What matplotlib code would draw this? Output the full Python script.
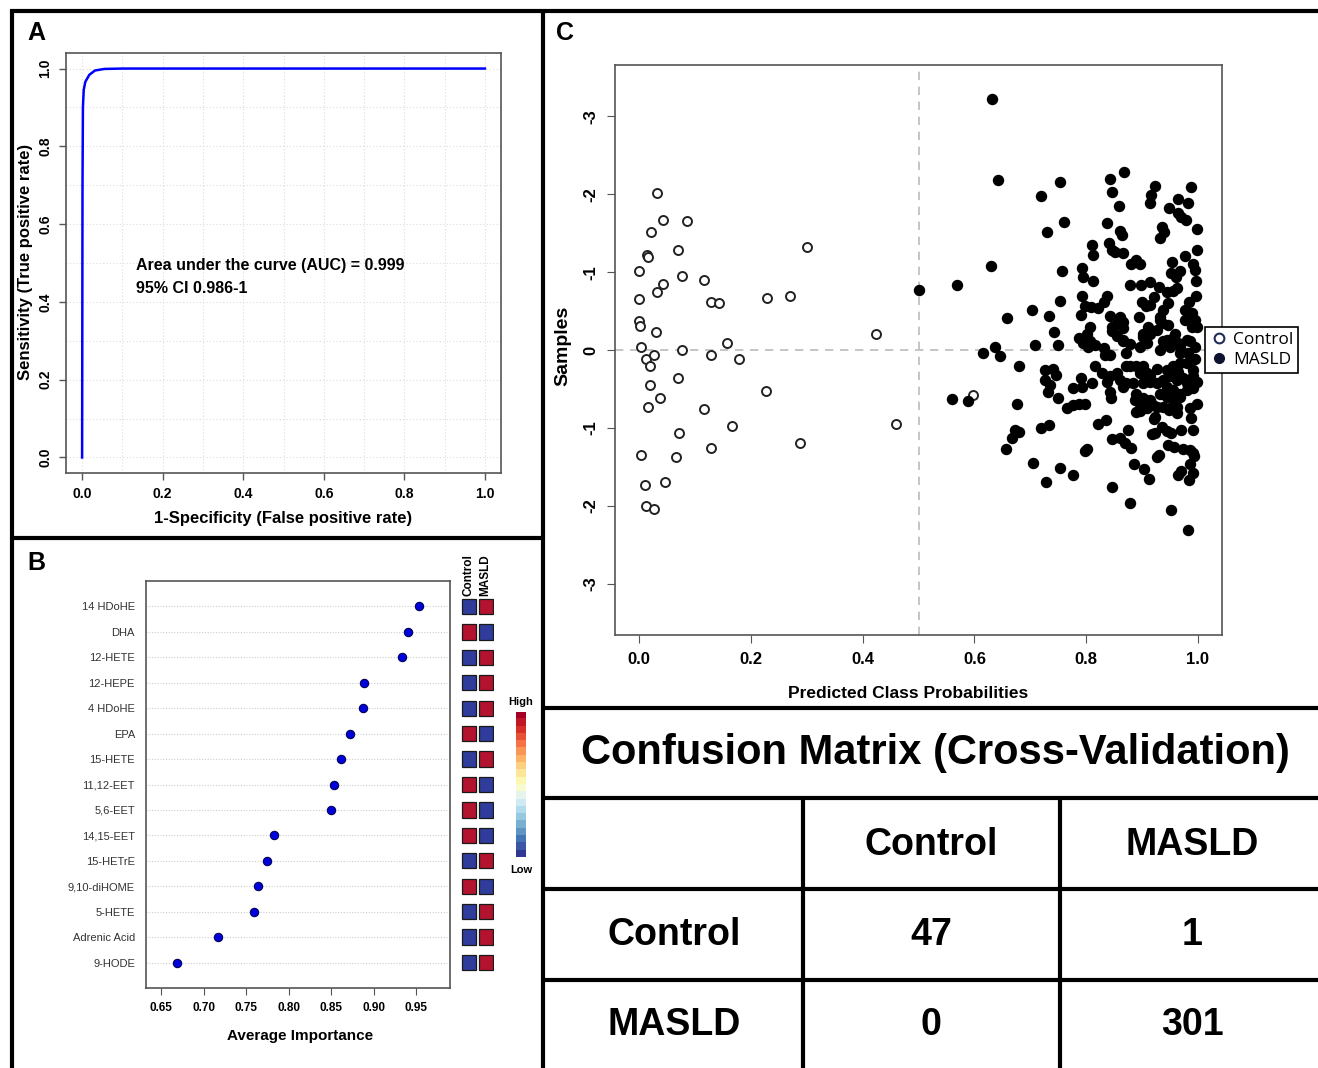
import numpy as np
import matplotlib
matplotlib.use("Agg")
import matplotlib.pyplot as plt
from matplotlib.lines import Line2D
from matplotlib import font_manager

# ---- data -------------------------------------------------------------
roc_fpr = [0.0, 0.001, 0.002, 0.004, 0.008, 0.018, 0.032, 0.055, 0.1, 1.0]
roc_tpr = [0.0, 0.70, 0.90, 0.945, 0.966, 0.984, 0.995, 0.999, 1.0, 1.0]
auc_text = ["Area under the curve (AUC) = 0.999", "95% CI 0.986-1"]

metabolites = ["14 HDoHE", "DHA", "12-HETE", "12-HEPE", "4 HDoHE", "EPA", "15-HETE",
               "11,12-EET", "5,6-EET", "14,15-EET", "15-HETrE", "9,10-diHOME", "5-HETE",
               "Adrenic Acid", "9-HODE"]
importance = [0.953, 0.941, 0.933, 0.889, 0.888, 0.872, 0.862, 0.853, 0.850,
              0.783, 0.774, 0.764, 0.759, 0.717, 0.669]
groups = ["Control", "MASLD"]
control_level = ["Low", "High", "Low", "Low", "Low", "High", "Low", "High", "High",
                 "High", "Low", "High", "Low", "Low", "Low"]
masld_level = ["High", "Low", "High", "High", "High", "Low", "High", "Low", "Low",
               "Low", "High", "Low", "High", "High", "High"]

ctrl_prob = [0.032, 0.042, 0.086, 0.021, 0.014, 0.016, 0.069, 0.300, 0.000, 0.077,
             0.117, 0.042, 0.033, 0.000, 0.128, 0.143, 0.229, 0.270, 0.000, 0.002,
             0.030, 0.424, 0.004, 0.157, 0.077, 0.013, 0.027, 0.020, 0.128, 0.179,
             0.069, 0.020, 0.038, 0.227, 0.016, 0.116, 0.166, 0.459, 0.072, 0.288,
             0.128, 0.004, 0.067, 0.011, 0.047, 0.012, 0.026, 0.598]
ctrl_sample = [-2.02, -1.67, -1.66, -1.51, -1.22, -1.20, -1.29, -1.32, -1.01, -0.95,
               -0.90, -0.85, -0.74, -0.65, -0.62, -0.61, -0.67, -0.69, -0.37, -0.31,
               -0.23, -0.21, -0.04, -0.09, 0.00, 0.12, 0.06, 0.21, 0.07, 0.12,
               0.36, 0.45, 0.61, 0.53, 0.73, 0.76, 0.98, 0.95, 1.06, 1.19,
               1.26, 1.35, 1.37, 1.73, 1.70, 2.00, 2.04, 0.58]

masld_prob = [
    0.632, 0.643, 0.753, 0.719, 0.761, 0.730, 0.630, 0.568, 0.757, 0.658,
    0.703, 0.733, 0.754, 0.742, 0.708, 0.750, 0.637, 0.616, 0.645, 0.680,
    0.560, 0.589, 0.676, 0.657, 0.667, 0.673, 0.680, 0.704, 0.728, 0.753,
    0.776, 0.719, 0.733, 0.801, 0.798, 0.822, 0.835, 0.846, 0.878, 0.952,
    0.982, 0.847, 0.861, 0.869, 0.881, 0.886, 0.903, 0.913, 0.926, 0.931,
    0.964, 0.969, 0.986, 0.992, 0.984, 0.973, 0.986, 0.993, 0.992, 0.946,
    0.958, 0.875, 0.917, 0.924, 0.936, 0.944, 0.951, 0.969, 0.991, 0.988,
    0.921, 0.890, 0.896, 0.765, 0.777, 0.788, 0.798, 0.777, 0.792, 0.750,
    0.731, 0.735, 0.726, 0.727, 0.740, 0.746, 0.791, 0.811, 0.844, 0.843,
    0.837, 0.843, 0.829, 0.815, 0.868, 0.843, 0.847, 0.859, 0.924, 0.916,
    0.914, 0.987, 0.982, 0.964, 0.948, 0.964, 0.969, 0.978, 0.998, 0.838,
    0.861, 0.864, 0.936, 0.940, 0.932, 0.811, 0.813, 0.840, 0.846, 0.852,
    0.866, 0.998, 0.977, 0.880, 0.890, 0.897, 0.792, 0.794, 0.812, 0.878,
    0.898, 0.914, 0.930, 0.954, 0.952, 0.960, 0.968, 0.992, 0.995, 0.996,
    0.944, 0.955, 0.962, 0.793, 0.798, 0.809, 0.837, 0.831, 0.822, 0.900,
    0.907, 0.921, 0.914, 0.996, 0.984, 0.977, 0.990, 0.995, 0.998, 0.947,
    0.938, 0.932, 0.935, 0.947, 0.790, 0.843, 0.860, 0.866, 0.895, 0.807,
    0.801, 0.788, 0.846, 0.847, 0.855, 0.866, 0.878, 0.911, 0.914, 0.902,
    0.908, 0.896, 0.959, 0.956, 0.965, 0.950, 0.938, 0.932, 0.986, 0.995,
    0.983, 0.995, 0.980, 0.992, 0.795, 0.804, 0.816, 0.831, 0.834, 0.843,
    0.872, 0.872, 0.878, 0.890, 0.902, 0.908, 0.896, 0.926, 0.944, 0.950,
    0.956, 0.968, 0.965, 0.855, 0.860, 0.872, 0.884, 0.865,
    0.890, 0.902, 0.914, 0.932, 0.944, 0.950, 0.956, 0.968, 0.980, 0.992,
    0.998, 0.986, 0.974, 0.962, 0.938, 0.914, 0.902,
    0.998, 0.986, 0.962, 0.950, 0.962, 0.938, 0.926, 0.908, 0.896, 0.887,
    0.968, 0.992, 0.980, 0.956, 0.944, 0.968, 0.926, 0.914, 0.923, 0.920, 0.948,
    0.807, 0.855, 0.866, 0.865, 0.902, 0.926, 0.932, 0.944, 0.968, 0.980, 0.989, 0.977,
    0.501]
masld_sample = [
    -3.22, -2.18, -2.16, -1.98, -1.64, -1.52, -1.08, -0.83, -1.02, -0.41,
    -0.51, -0.44, -0.63, -0.23, -0.07, -0.06, -0.04, 0.04, 0.08, 0.21,
    0.63, 0.65, 0.69, 1.27, 1.13, 1.03, 1.05, 1.45, 1.70, 1.52,
    1.61, 1.00, 0.96, 1.27, 1.30, 0.95, 0.90, 1.76, 1.97, 2.06,
    2.31, 1.14, 1.13, 1.20, 1.26, 1.47, 1.53, 1.66, 1.38, 1.35,
    1.61, 1.55, 1.47, 1.58, 1.67, 1.27, 1.29, 1.36, 1.32, 1.22,
    1.24, 1.03, 1.08, 1.07, 0.99, 1.04, 1.06, 1.03, 1.03, 0.87,
    0.88, 0.79, 0.78, 0.75, 0.70, 0.69, 0.69, 0.49, 0.48, 0.62,
    0.54, 0.45, 0.39, 0.26, 0.24, 0.32, 0.36, 0.42, 0.61, 0.54,
    0.41, 0.34, 0.30, 0.21, -2.28, -2.19, -2.03, -1.85, -2.11, -1.99,
    -1.89, -2.09, -1.89, -1.94, -1.83, -1.76, -1.71, -1.67, -1.55, -1.63,
    -1.53, -1.48, -1.58, -1.52, -1.44, -1.35, -1.22, -1.37, -1.29, -1.26,
    -1.24, -1.29, -1.21, -1.11, -1.16, -1.11, -1.05, -0.94, -0.88, -0.84,
    -0.84, -0.87, -0.81, -1.13, -0.99, -0.94, -1.01, -1.11, -1.03, -0.89,
    -0.75, -0.76, -0.79, -0.69, -0.56, -0.55, -0.69, -0.62, -0.54, -0.62,
    -0.56, -0.68, -0.58, -0.69, -0.62, -0.51, -0.47, -0.39, -0.30, -0.61,
    -0.51, -0.43, -0.35, -0.32, -0.45, -0.44, -0.42, -0.36, -0.42, -0.30,
    -0.21, -0.16, -0.30, -0.25, -0.18, -0.13, -0.08, -0.30, -0.21, -0.17,
    -0.09, -0.04, -0.21, -0.15, -0.09, -0.04, -0.11, 0.00, -0.11, -0.04,
    0.04, 0.11, 0.17, 0.26, -0.09, -0.04, -0.06, -0.02, 0.06, 0.06,
    0.04, 0.21, 0.21, 0.21, 0.21, 0.30, 0.30, 0.24, 0.26, 0.34,
    0.21, 0.17, 0.28, 0.30, 0.39, 0.43, 0.43, 0.47,
    0.56, 0.62, 0.64, 0.56, 0.47, 0.56, 0.62, 0.56, 0.51, 0.49,
    0.41, 0.39, 0.36, 0.39, 0.39, 0.41, 0.43,
    0.69, 0.75, 0.73, 0.75, 0.81, 0.73, 0.73, 0.75, 0.69, 0.64,
    0.04, 0.34, 0.43, 0.51, 0.60, 0.60, 0.43, 0.34, 0.86, 0.71, 0.77,
    -0.11, -0.34, -0.28, -0.11, -0.21, -0.26, -0.39, -0.13, -0.04, -0.13, -0.30, -0.39,
    -0.77]

cm_labels = ["Control", "MASLD"]
cm_values = [[47, 1], [0, 301]]

# ---- layout helpers (pixel coords, origin top-left) --------------------
W, H = 1318, 1068


def box(l, t, r, b):
    return [l / W, 1 - b / H, (r - l) / W, (b - t) / H]


def fx(x):
    return x / W


def fy(y):
    return 1 - y / H


plt.rcParams['font.family'] = ['Liberation Sans', 'DejaVu Sans']
names = {f.name for f in font_manager.fontManager.ttflist}
narrow = 'Liberation Sans Narrow' if 'Liberation Sans Narrow' in names else 'Liberation Sans'

fig = plt.figure(figsize=(W / 100, H / 100), dpi=100)
spine_col = '#555555'


def style_axes(ax):
    for s in ax.spines.values():
        s.set_color(spine_col)
        s.set_linewidth(1.2)


# ---- panel A: ROC -----------------------------------------------------
axA = fig.add_axes(box(66, 53, 501, 473))
for v in np.arange(0, 1.01, 0.1):
    axA.axvline(v, color='#dddddd', lw=0.8, ls=(0, (1, 2)), zorder=0)
    axA.axhline(v, color='#dddddd', lw=0.8, ls=(0, (1, 2)), zorder=0)
axA.plot(roc_fpr, roc_tpr, color='#0000ff', lw=1.8)
axA.set_xlim(-0.04, 1.04)
axA.set_ylim(-0.04, 1.04)
ticksA = np.arange(0, 1.01, 0.2)
axA.set_xticks(ticksA)
axA.set_xticklabels([f"{t:.1f}" for t in ticksA], fontsize=10, fontweight='bold')
axA.set_yticks(ticksA)
axA.set_yticklabels([f"{t:.1f}" for t in ticksA], fontsize=10, fontweight='bold',
                    rotation=90, va='center')
axA.tick_params(direction='out', length=5, width=1, color=spine_col, pad=5)
style_axes(axA)
axA.text(0.135, 0.493, auc_text[0], fontsize=11.5, fontweight='bold', va='center')
axA.text(0.135, 0.434, auc_text[1], fontsize=11.5, fontweight='bold', va='center')
fig.text(fx(283), fy(519), "1-Specificity (False positive rate)", fontsize=12,
         fontweight='bold', ha='center', va='center')
fig.text(fx(26), fy(262), "Sensitivity (True positive rate)", fontsize=12,
         fontweight='bold', ha='center', va='center', rotation=90)

# ---- panel B: variable importance --------------------------------------
rows = np.arange(1, len(metabolites) + 1)
axB = fig.add_axes(box(146, 581, 450, 988))
for r in rows:
    axB.axhline(r, color='#cccccc', lw=0.8, ls=(0, (1, 1.5)), zorder=0)
axB.plot(importance, rows, 'o', color='#0000dd', mec='#000055', mew=0.8, ms=6, zorder=3)
axB.set_xlim(0.632, 0.99)
axB.set_ylim(16, 0)
axB.set_yticks(rows)
axB.set_yticklabels(metabolites, fontsize=8, color='#333333')
axB.tick_params(axis='y', length=0, pad=8)
ticksB = [0.65, 0.70, 0.75, 0.80, 0.85, 0.90, 0.95]
axB.set_xticks(ticksB)
axB.set_xticklabels([f"{t:.2f}" for t in ticksB], fontsize=8.5, fontweight='bold')
axB.tick_params(axis='x', direction='out', length=5, color=spine_col, pad=5)
style_axes(axB)
fig.text(fx(300), fy(1036), "Average Importance", fontsize=11, fontweight='bold',
         ha='center', va='center')

level_color = {"High": '#b3132e', "Low": '#2f3c9b'}
axH = fig.add_axes(box(461, 581, 494, 988))
for j, levels in enumerate([control_level, masld_level]):
    axH.barh(rows, 1.0, left=j * 1.15, height=0.6,
             color=[level_color[v] for v in levels], edgecolor='#1a1a1a', lw=0.9)
axH.set_xlim(-0.05, 2.2)
axH.set_ylim(16, 0)
axH.axis('off')
for j, g in enumerate(groups):
    fig.text(fx(469 + 16 * j), fy(596), g, rotation=90, ha='center', va='bottom',
             fontsize=8.5, fontweight='bold')

axCB = fig.add_axes(box(516, 712, 526, 857))
axCB.imshow(np.linspace(1, 0, 20)[:, None], cmap='RdYlBu_r', aspect='auto')
axCB.axis('off')
fig.text(fx(521), fy(702), "High", ha='center', va='center', fontsize=8, fontweight='bold')
fig.text(fx(521), fy(870), "Low", ha='center', va='center', fontsize=8, fontweight='bold')

# ---- panel C: class probabilities --------------------------------------
axC = fig.add_axes(box(615, 65, 1222, 635))
axC.axhline(0, color='#bbbbbb', lw=1.2, ls=(0, (5, 4)), zorder=0)
axC.axvline(0.5, color='#bbbbbb', lw=1.2, ls=(0, (5, 4)), zorder=0)
axC.scatter(ctrl_prob, ctrl_sample, s=42, facecolors='white', edgecolors='#222222',
            linewidths=1.4, zorder=3)
axC.scatter(masld_prob, masld_sample, s=52, color='black', zorder=3)
axC.set_xlim(-0.043, 1.043)
axC.set_ylim(3.66, -3.66)
ticksC = np.arange(0, 1.01, 0.2)
axC.set_xticks(ticksC)
axC.set_xticklabels([f"{t:.1f}" for t in ticksC], fontsize=12, fontweight='bold')
axC.set_yticks([-3, -2, -1, 0, 1, 2, 3])
axC.set_yticklabels(['-3', '-2', '-1', '0', '-1', '-2', '-3'], fontsize=12,
                    fontweight='bold', rotation=90, va='center')
axC.tick_params(direction='out', length=6, color=spine_col, pad=6)
style_axes(axC)
fig.text(fx(563), fy(346), "Samples", fontsize=14, fontweight='bold', rotation=90,
         ha='center', va='center')
fig.text(fx(908), fy(693), "Predicted Class Probabilities", fontsize=12.5,
         fontweight='bold', ha='center', va='center')
handles = [Line2D([], [], ls='none', marker='o', ms=7, mfc='white', mec='#1f2d5a', mew=1.5),
           Line2D([], [], ls='none', marker='o', ms=7, mfc='#0d1330', mec='#0d1330')]
leg = axC.legend(handles, cm_labels, loc='center left',
                 bbox_to_anchor=(fx(1205), fy(350)), bbox_transform=fig.transFigure,
                 fancybox=False, framealpha=1, edgecolor='black',
                 prop={'family': 'Open Sans', 'size': 12.5},
                 handletextpad=0.3, handlelength=1.0, borderpad=0.3, labelspacing=0.2,
                 borderaxespad=0)
leg.get_frame().set_linewidth(1.2)

# ---- confusion matrix table ---------------------------------------------
fig.text(fx(935), fy(753), "Confusion Matrix (Cross-Validation)", family=narrow,
         fontsize=30, fontweight='bold', ha='center', va='center')
col_x = [931, 1192]
row_y = [935, 1025]
for j, lab in enumerate(cm_labels):
    fig.text(fx(col_x[j]), fy(845), lab, family=narrow, fontsize=27, fontweight='bold',
             ha='center', va='center')
    fig.text(fx(674), fy(row_y[j]), lab, family=narrow, fontsize=27, fontweight='bold',
             ha='center', va='center')
for i in range(2):
    for j in range(2):
        fig.text(fx(col_x[j]), fy(row_y[i]), str(cm_values[i][j]), family=narrow,
                 fontsize=27, fontweight='bold', ha='center', va='center')

# ---- panel borders and table rules --------------------------------------


def rule(x0, y0, x1, y1, lw=3.0):
    fig.add_artist(Line2D([fx(x0), fx(x1)], [fy(y0), fy(y1)], color='black', lw=lw,
                          solid_capstyle='butt'))


rule(10, 11, 1318, 11)
rule(12, 10, 12, 1068)
rule(543, 10, 543, 1068)
rule(10, 538, 543, 538)
rule(543, 708, 1318, 708)
for yy in [798, 889, 980]:
    rule(543, yy, 1318, yy)
for xx in [803, 1060]:
    rule(xx, 798, xx, 1068)

for lab, (x, y) in zip("ABC", [(36, 33), (36, 563), (565, 33)]):
    fig.text(fx(x), fy(y), lab, fontsize=18, fontweight='bold', ha='center', va='center')

fig.savefig("out.png", dpi=100)
